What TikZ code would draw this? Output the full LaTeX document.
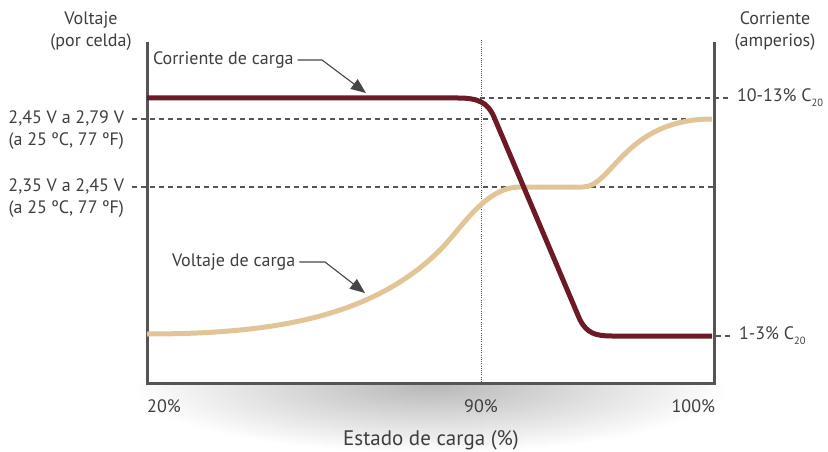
\documentclass[tikz,border=0pt]{standalone}
\usepackage{fontspec}
\setmainfont{PT Sans}
\usetikzlibrary{arrows.meta}
\definecolor{axisgray}{RGB}{85,85,85}
\definecolor{txtgray}{RGB}{62,62,62}
\definecolor{curmaroon}{RGB}{108,26,40}
\definecolor{volttan}{RGB}{226,197,150}
\definecolor{arrowgray}{RGB}{70,70,70}
\newcommand{\subtw}{\raisebox{-0.55ex}{\fontsize{10.5}{10.5}\selectfont 20}}
\tikzset{
  lbl/.style={inner sep=0pt, outer sep=0pt, text=txtgray, font=\fontsize{18}{22}\selectfont, align=center},
  guide/.style={draw=axisgray, line width=1.1pt, dash pattern=on 5pt off 4pt},
  axisline/.style={draw=axisgray, line width=3pt, line join=miter},
  pointer/.style={draw=arrowgray, line width=1.1pt, -{Triangle[length=15pt,width=12pt]}},
  curvecur/.style={draw=curmaroon, line width=5pt},
  curvevolt/.style={draw=volttan, line width=5pt}
}
\begin{document}
\begin{tikzpicture}[x=1pt,y=-1pt]
\useasboundingbox (0,0) rectangle (828,452);
% shadow under the axis
\begin{scope}
  \clip (100,385) rectangle (760,452);
  \shade[inner color=black!28, outer color=white] (430,385) ellipse [x radius=300, y radius=68];
\end{scope}
% guide lines
\coordinate (g1a) at (147,98);  \coordinate (g1b) at (731,98);
\coordinate (g2a) at (132,119); \coordinate (g2b) at (712,119);
\coordinate (g3a) at (132,187); \coordinate (g3b) at (714,187);
\coordinate (g4a) at (716,336); \coordinate (g4b) at (731,336);
\draw[guide] (g1a) -- (g1b);
\draw[guide] (g2a) -- (g2b);
\draw[guide] (g3a) -- (g3b);
\draw[guide] (g4a) -- (g4b);
\coordinate (dt) at (481,40); \coordinate (db) at (481,383);
\draw[axisgray, line width=0.9pt, dash pattern=on 1pt off 1.2pt] (dt) -- (db);
% axes
\coordinate (lt) at (147,42); \coordinate (lb) at (147,383);
\coordinate (rb) at (714,383); \coordinate (rt) at (714,42);
\draw[axisline] (lt) -- (lb) -- (rb) -- (rt);
% voltage curve
\draw[curvevolt] (147,334) .. controls (268,334) and (371,319) .. (440,250)
  .. controls (462,228) and (485,187) .. (520,187) -- (583,187)
  .. controls (612,187) and (625,119) .. (712,119);
% current curve
\draw[curvecur] (147,98) -- (458,98) .. controls (479,98) and (488,103) .. (494,117)
  -- (580,320) .. controls (587,333) and (595,336) .. (612,336) -- (712,336);
% axis titles
\node[lbl] (vt) at (91,31) {Voltaje\\(por celda)};
\node[lbl] (ct) at (775,31) {Corriente\\(amperios)};
% left labels
\node[lbl, anchor=east] (v1) at (124,130) {2,45 V a 2,79 V\\(a 25 ºC, 77 ºF)};
\node[lbl, anchor=east] (v2) at (124,198) {2,35 V a 2,45 V\\(a 25 ºC, 77 ºF)};
% right labels
\node[lbl, anchor=west] (c1) at (737,98) {10-13\% C\subtw};
\node[lbl, anchor=west] (c2) at (739,336) {1-3\% C\subtw};
% curve labels with pointers
\node[lbl, anchor=west] (cl) at (153,60) {Corriente de carga};
\coordinate (cl1) at (322,60);
\coordinate (cltip) at (366,93);
\draw[pointer] ([xshift=4pt]cl.east) -- (cl1) -- (cltip);
\node[lbl, anchor=west] (vl) at (172,262) {Voltaje de carga};
\coordinate (vl1) at (325,262);
\coordinate (vltip) at (365,293);
\draw[pointer] ([xshift=4pt]vl.east) -- (vl1) -- (vltip);
% x ticks
\node[lbl] (x20) at (164,406) {20\%};
\node[lbl] (x90) at (481,406) {90\%};
\node[lbl, anchor=east] (x100) at (715,406) {100\%};
\node[lbl, font=\fontsize{21}{24}\selectfont] (xt) at (431,440) {Estado de carga (\%)};
\end{tikzpicture}
\end{document}
